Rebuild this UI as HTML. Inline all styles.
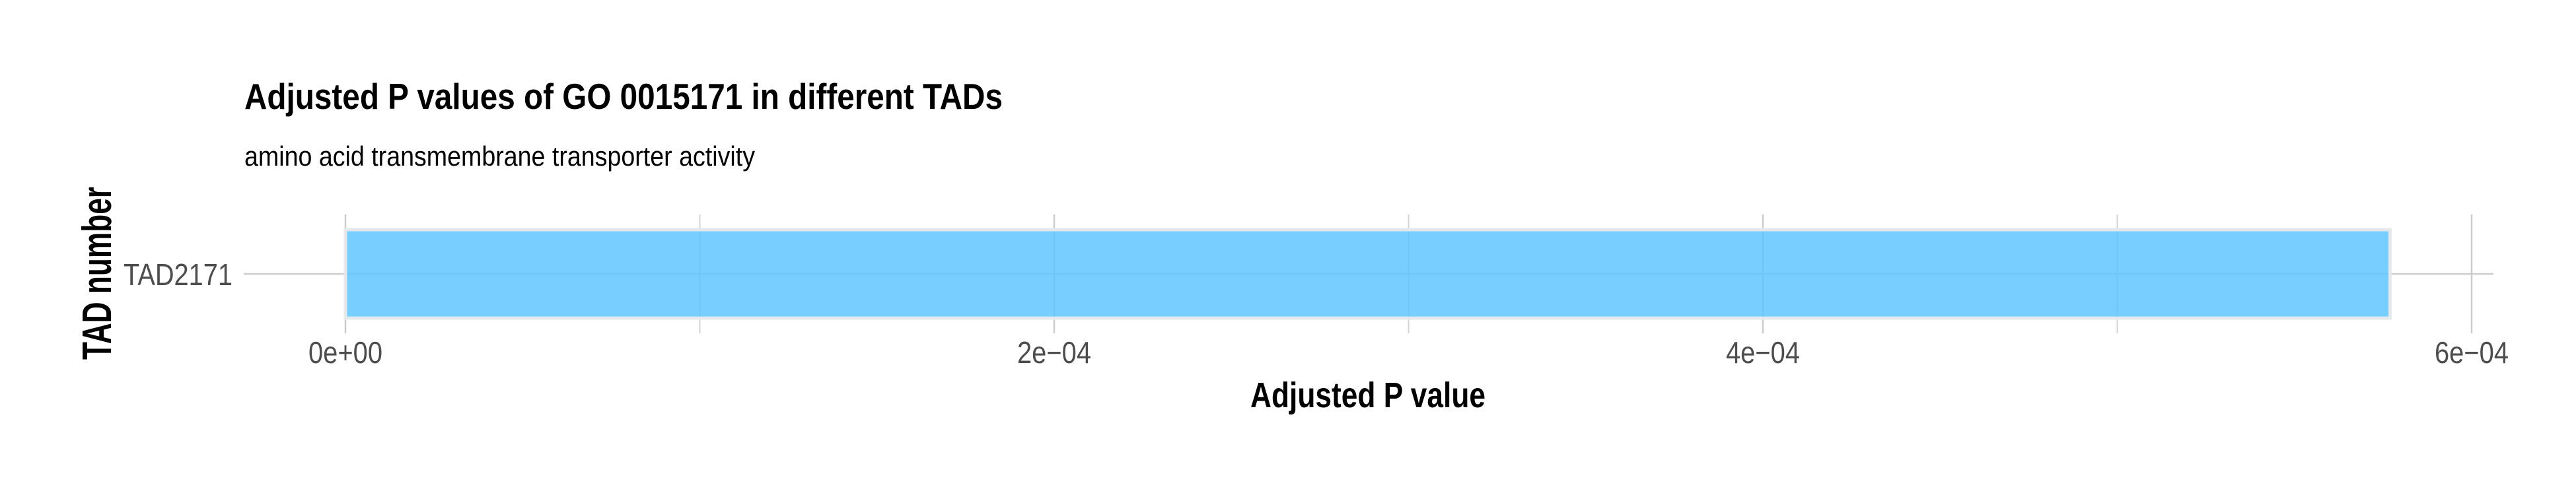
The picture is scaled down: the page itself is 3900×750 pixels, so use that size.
<!DOCTYPE html>
<html><head><meta charset="utf-8"><style>
html,body{margin:0;padding:0;background:#fff;}
svg{display:block;}
text{font-family:"Liberation Sans",sans-serif;}
</style></head><body>
<svg id="chart" width="3900" height="750" viewBox="0 0 3900 750" xmlns="http://www.w3.org/2000/svg">
<rect width="3900" height="750" fill="#fff"/>
<text x="370" y="165" font-size="55" font-weight="bold" fill="#000" textLength="1148" lengthAdjust="spacingAndGlyphs">Adjusted P values of GO 0015171 in different TADs</text>
<text x="370" y="251" font-size="42" fill="#000" textLength="773" lengthAdjust="spacingAndGlyphs">amino acid transmembrane transporter activity</text>
<g id="grid"></g>
<g id="bars"></g>
<g id="xticks"></g>
<g id="yticks"></g>
<text x="2071" y="617" font-size="54" font-weight="bold" text-anchor="middle" fill="#000" textLength="356" lengthAdjust="spacingAndGlyphs">Adjusted P value</text>
<text transform="translate(168,414) rotate(-90)" font-size="62" font-weight="bold" text-anchor="middle" fill="#000" textLength="262" lengthAdjust="spacingAndGlyphs">TAD number</text>
</svg>
<script>
const categories = ["TAD2171"];
const values = [5.77e-4];
const xTicks = [0, 2e-4, 4e-4, 6e-4];
const xTickLabels = ["0e+00", "2e\u221204", "4e\u221204", "6e\u221204"];
const xMinor = [1e-4, 3e-4, 5e-4];

const NS = "http://www.w3.org/2000/svg";
const X0 = 523, XPER = 3219 / 6e-4;
function xs(v){ return X0 + v * XPER; }
const PT = 325, PB = 505;
function yc(i){ const n = categories.length; const band = (PB - PT) / n; return PT + band * (i + 0.5); }
function mk(tag, attrs, parent){ const e = document.createElementNS(NS, tag); for (const k in attrs) e.setAttribute(k, attrs[k]); parent.appendChild(e); return e; }

const grid = document.getElementById('grid');
xMinor.forEach(v => {
  const l = mk('line', {x1: xs(v), x2: xs(v), y1: PT, y2: PB, stroke: '#d4d4d4', 'stroke-width': 2}, grid);
  
  
});
xTicks.forEach(v => {
  const l = mk('line', {x1: xs(v), x2: xs(v), y1: PT, y2: PB, stroke: '#cccccc', 'stroke-width': 2.5}, grid);
  
  
});
categories.forEach((c, i) => {
  const l = mk('line', {x1: 369, x2: 3775, y1: yc(i), y2: yc(i), stroke: '#cccccc', 'stroke-width': 2.5}, grid);
  
  
});

const bars = document.getElementById('bars');
const bandH = (PB - PT) / categories.length;
values.forEach((v, i) => {
  const h = bandH * 0.745;
  const r = mk('rect', {x: xs(0), y: yc(i) - h / 2, width: xs(v) - xs(0), height: h, fill: 'rgba(90,197,255,0.82)', stroke: '#e5e9ec', 'stroke-width': 5}, bars);
  
  
});

const xt = document.getElementById('xticks');
xTicks.forEach((v, i) => {
  const t = mk('text', {x: xs(v), y: 550, 'font-size': 46, fill: '#4d4d4d', 'text-anchor': 'middle', textLength: 112, lengthAdjust: 'spacingAndGlyphs'}, xt);
  t.textContent = xTickLabels[i];
  
  
});
const yt = document.getElementById('yticks');
categories.forEach((c, i) => {
  const t = mk('text', {x: 352, y: yc(i) + 17, 'font-size': 46, fill: '#4d4d4d', 'text-anchor': 'end', textLength: 165, lengthAdjust: 'spacingAndGlyphs'}, yt);
  t.textContent = c;
  
  
});
</script>
</body></html>
